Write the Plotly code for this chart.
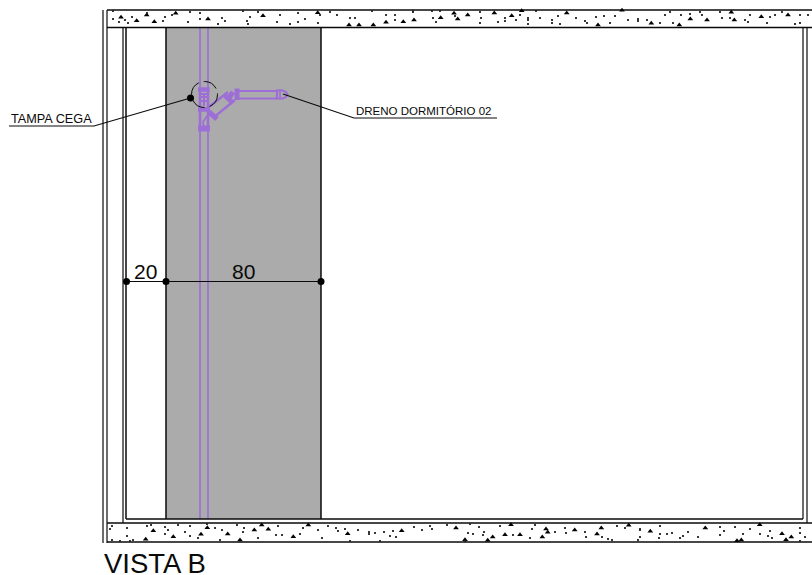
import plotly.graph_objects as go

BLACK = "#0a0a0a"
PURPLE = "#9d6fd6"
GREY = "#ababab"

# Drawing geometry (page pixels)
wall_panel_x = [166, 321, 321, 166, 166]
wall_panel_y = [27, 27, 519, 519, 27]

frame_lines = [
    ([103, 103], [10, 543], 1.2),
    ([107, 107], [10, 543], 1.2),
    ([107, 812], [10, 10], 1.5),
    ([107, 812], [27.5, 27.5], 1.5),
    ([107, 812], [523, 523], 1.5),
    ([107, 812], [542, 542], 1.5),
    ([123, 123], [27, 523], 1.2),
    ([126, 126], [27, 519], 1.5),
    ([126, 803], [519, 519], 1.5),
    ([803, 803], [27, 519], 1.2),
    ([807, 807], [27, 523], 1.2),
    ([166, 166], [27, 519], 1.5),
    ([321, 321], [27, 519], 1.5),
]

pipe_lines = [
    ([200, 200], [27, 519], 1.7),
    ([208, 208], [27, 519], 1.7),
    ([205, 228], [110, 92], 2.4),
    ([213, 235], [118, 100], 2.4),
    ([236, 277], [91, 91], 2.2),
    ([236, 277], [98.5, 98.5], 2.2),
    ([277, 283, 286, 287.5, 286, 283, 277], [90.5, 90.5, 92, 94.5, 97, 98.5, 98.5], 2.2),
    ([204, 204], [94, 106], 2),
    ([200, 200], [89, 128], 2.6),
    ([208, 208], [89, 128], 2.6),
    ([207, 203, 204], [116, 122, 128], 1.6),
]

pipe_fittings = [
    ([198, 209.5], [89.5, 89.5], 4.5),
    ([198, 210], [109.5, 109.5], 4.5),
    ([198, 210], [128.5, 128.5], 6),
    ([237, 237], [88.5, 100], 5),
    ([233, 228], [92, 99], 5),
    ([277, 277], [89.5, 99.5], 2.2),
    ([280, 280], [89.5, 99.5], 1.7),
    ([225, 233], [95.5, 103], 5),
    ([209, 217], [112, 119], 5),
    ([200.5, 207.5], [97, 97], 2),
    ([200.5, 207.5], [101, 101], 2),
    ([201, 207], [94, 94], 2),
]

leader_tampa_x = [9, 94, 190.5]
leader_tampa_y = [126, 126, 98]
leader_dreno_x = [283, 354, 497]
leader_dreno_y = [94, 118, 118]
dimension_x = [126.5, 321]
dimension_y = [281.5, 281.5]
dot_x = [126.5, 166, 321, 190.5]
dot_y = [281.5, 281.5, 281.5, 98]

cut_circle_cx, cut_circle_cy, cut_circle_r = 204.5, 94.5, 13

big_speck_x = [175.7, 146.7, 136.7, 154.3, 121, 208, 263, 317.7, 454, 414, 440.7, 467.7, 457.7, 494.3, 511.7,
               521.7, 566.7, 386, 403.3, 349, 359, 373.3, 690.3, 707, 731.3, 734.3, 761.3, 788, 651.3, 679.3,
               598, 622, 153.3, 207.3, 201, 227.7, 173.3, 268.3, 254.3, 293.3, 308.3, 261.7, 145.7, 240,
               347.7, 401.7, 456, 511, 546, 547.7, 505, 520, 542.3, 492.7, 465, 487.7, 574.7, 601.3, 597,
               628.7, 650.3, 705.3, 759.7, 782, 791.3, 786, 741.3, 737]
big_speck_y = [13.3, 15, 20.7, 21.7, 17.3, 19, 15.7, 12.7, 13.3, 20, 17.7, 15, 19, 13, 15.7,
               10.7, 13, 22.3, 21.7, 25, 25, 25, 19, 20, 12.3, 20, 16.7, 15, 23.3, 25,
               25, 10.3, 530.7, 527.7, 534.3, 534, 536.7, 529.3, 530, 536.7, 525, 525, 539.3, 540,
               533.7, 530.7, 528, 524.7, 529, 532.3, 534.7, 534.7, 537, 537, 539.7, 540.3, 530, 528, 534,
               525.3, 531.3, 528, 524.7, 533.7, 537, 539.7, 540, 540.7]

small_speck_x = [113, 113, 119, 125, 132, 128, 147, 165, 163, 172, 190, 200, 188, 200, 222, 218, 225, 243, 250, 258,
                 248, 280, 277, 247, 290, 298, 305, 298, 318, 320, 330, 337, 350, 355, 372, 386, 395, 395, 413, 413,
                 432, 436, 433, 440, 455, 480, 481, 480, 498, 505, 505, 516, 520, 528, 528, 536, 528, 540, 552, 552,
                 558, 560, 576, 585, 587, 596, 604, 610, 615, 628, 638, 638, 647, 660, 665, 673, 670, 681, 690, 700,
                 702, 720, 722, 730, 745, 748, 750, 767, 770, 775, 782, 795, 800, 800, 808,
                 110, 112, 127, 127, 133, 147, 151, 165, 165, 168, 178, 185, 190, 190, 198, 207, 215, 222, 220, 237,
                 243, 244, 258, 276, 278, 282, 300, 303, 318, 322, 328, 112, 130, 120, 336, 338, 345, 358, 369, 369,
                 375, 384, 390, 396, 393, 414, 422, 430, 432, 447, 465, 470, 479, 484, 483, 468, 473, 500, 513, 530,
                 535, 532, 555, 565, 566, 380, 350, 585, 586, 602, 608, 612, 617, 625, 640, 640, 638, 640, 660, 660,
                 659, 667, 672, 680, 683, 688, 698, 720, 724, 720, 735, 750, 743, 760, 770, 768, 772, 800, 800, 800, 805]
small_speck_y = [11, 19, 22, 20, 17, 23, 13, 17, 21, 15, 12, 13, 22, 19, 18, 24, 21, 11, 17, 12,
                 24, 15, 22, 21, 24, 13, 19, 22, 23, 15, 12, 15, 18, 18, 11, 15, 15, 20, 11, 12,
                 11, 22, 18, 11, 16, 12, 18, 23, 22, 21, 18, 20, 15, 20, 18, 11, 24, 18, 20, 23,
                 16, 24, 18, 21, 23, 17, 16, 23, 16, 20, 19, 21, 20, 23, 15, 23, 12, 15, 14, 12,
                 15, 12, 18, 18, 20, 22, 15, 23, 17, 15, 12, 24, 23, 15, 15,
                 529, 526, 528, 536, 540, 526, 525, 527, 534, 530, 525, 532, 526, 536, 538, 524, 528, 530, 540, 525,
                 532, 528, 538, 535, 526, 535, 534, 528, 530, 538, 526, 540, 541, 541, 528, 531, 529, 530, 532, 534,
                 533, 532, 536, 537, 531, 527, 530, 526, 529, 525, 541, 524, 527, 532, 535, 533, 534, 526, 535, 538,
                 525, 529, 532, 528, 533, 541, 541, 532, 537, 537, 539, 540, 526, 528, 537, 530, 540, 529, 526, 534,
                 538, 534, 533, 538, 536, 532, 537, 527, 531, 535, 527, 529, 534, 534, 531, 536, 538, 528, 533, 541, 537]

label_tampa = "TAMPA CEGA"
label_dreno = "DRENO DORMITÓRIO 02"
dim_values = ["20", "80"]
view_title = "VISTA B"

fig = go.Figure()


def add_lines(group, color):
    for xs, ys, w in group:
        fig.add_trace(go.Scatter(x=xs, y=ys, mode="lines", line=dict(color=color, width=w), hoverinfo="skip"))


fig.add_trace(go.Scatter(x=wall_panel_x, y=wall_panel_y, mode="lines", fill="toself",
                         fillcolor=GREY, line=dict(color=GREY, width=0), hoverinfo="skip"))
add_lines(pipe_lines, PURPLE)
add_lines(pipe_fittings, PURPLE)
add_lines(frame_lines, BLACK)
for lx, ly in [(leader_tampa_x, leader_tampa_y), (leader_dreno_x, leader_dreno_y), (dimension_x, dimension_y)]:
    fig.add_trace(go.Scatter(x=lx, y=ly, mode="lines", line=dict(color=BLACK, width=1.1), hoverinfo="skip"))
fig.add_trace(go.Scatter(x=dot_x, y=dot_y, mode="markers", marker=dict(color="black", size=7), hoverinfo="skip"))
fig.add_trace(go.Scatter(x=big_speck_x, y=big_speck_y, mode="markers",
                         marker=dict(color="black", size=5, symbol="triangle-up"), hoverinfo="skip"))
fig.add_trace(go.Scatter(x=small_speck_x, y=small_speck_y, mode="markers",
                         marker=dict(color="#222222", size=1.8, symbol="square"), hoverinfo="skip"))

FONT = "Liberation Sans"
fig.add_annotation(x=9, y=119, text=label_tampa, xanchor="left", yanchor="middle", showarrow=False,
                   font=dict(family=FONT, size=12.7, color=BLACK))
fig.add_annotation(x=354, y=111, text=label_dreno, xanchor="left", yanchor="middle", showarrow=False,
                   font=dict(family=FONT, size=11.5, color=BLACK))
fig.add_annotation(x=145.5, y=271.5, text=dim_values[0], xanchor="center", yanchor="middle", showarrow=False,
                   font=dict(family=FONT, size=21, color=BLACK))
fig.add_annotation(x=243.5, y=271.5, text=dim_values[1], xanchor="center", yanchor="middle", showarrow=False,
                   font=dict(family=FONT, size=21, color=BLACK))
fig.add_annotation(x=102, y=563, text=view_title, xanchor="left", yanchor="middle", showarrow=False,
                   font=dict(family=FONT, size=27.5, color=BLACK))

fig.add_shape(type="circle", x0=cut_circle_cx - cut_circle_r, x1=cut_circle_cx + cut_circle_r,
              y0=cut_circle_cy - cut_circle_r, y1=cut_circle_cy + cut_circle_r,
              line=dict(color=BLACK, width=1, dash="15px,5px"))

fig.update_layout(
    width=812, height=575, margin=dict(l=0, r=0, t=0, b=0), showlegend=False,
    paper_bgcolor="white", plot_bgcolor="white",
    xaxis=dict(range=[0, 812], visible=False, fixedrange=True),
    yaxis=dict(range=[575, 0], visible=False, fixedrange=True),
)
fig.write_html("out.html", config={"displayModeBar": False, "staticPlot": True},
               post_script="document.body.style.margin='0';document.documentElement.style.overflow='hidden';")
